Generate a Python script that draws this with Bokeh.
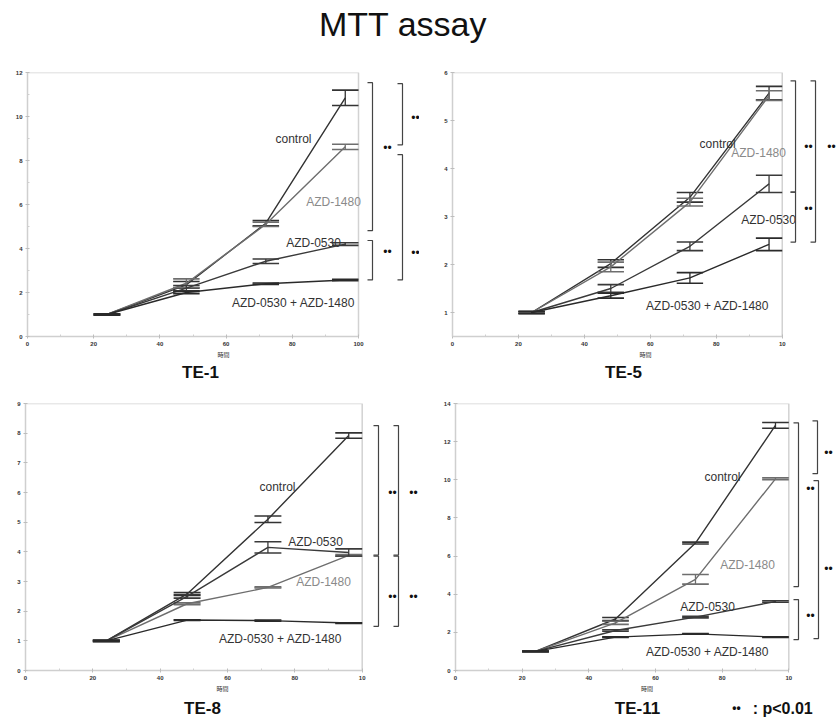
from bokeh.plotting import figure
from bokeh.models import Range1d, FixedTicker, ColumnDataSource
from bokeh.layouts import column, row
from bokeh.core.properties import value
from bokeh.embed import file_html
from bokeh.resources import INLINE

# ---------------- data ----------------
hours = [24, 48, 72, 96]
x_ticks = [0, 20, 40, 60, 80, 100]
x_minor = [10, 30, 50, 70, 90]

te1_control = [1.0, 2.35, 5.15, 10.85]
te1_control_err = [0.03, 0.15, 0.12, 0.35]
te1_azd1480 = [1.0, 2.42, 5.1, 8.62]
te1_azd1480_err = [0.03, 0.2, 0.1, 0.12]
te1_azd0530 = [1.0, 2.2, 3.42, 4.2]
te1_azd0530_err = [0.03, 0.12, 0.1, 0.06]
te1_combo = [1.0, 2.0, 2.4, 2.57]
te1_combo_err = [0.03, 0.05, 0.03, 0.03]

te5_control = [1.0, 2.02, 3.4, 5.57]
te5_control_err = [0.02, 0.08, 0.1, 0.14]
te5_azd1480 = [1.0, 1.95, 3.3, 5.52]
te5_azd1480_err = [0.02, 0.1, 0.08, 0.1]
te5_azd0530 = [1.0, 1.5, 2.38, 3.68]
te5_azd0530_err = [0.02, 0.08, 0.09, 0.18]
te5_combo = [1.0, 1.35, 1.72, 2.42]
te5_combo_err = [0.02, 0.05, 0.11, 0.13]

te8_control = [1.0, 2.58, 5.1, 7.92]
te8_control_err = [0.02, 0.05, 0.11, 0.09]
te8_azd1480 = [1.0, 2.25, 2.8, 3.88]
te8_azd1480_err = [0.02, 0.03, 0.02, 0.03]
te8_azd0530 = [1.0, 2.5, 4.15, 3.98]
te8_azd0530_err = [0.02, 0.06, 0.19, 0.12]
te8_combo = [1.0, 1.7, 1.68, 1.6]
te8_combo_err = [0.02, 0.01, 0.02, 0.01]

te11_control = [1.0, 2.7, 6.68, 12.85]
te11_control_err = [0.02, 0.08, 0.05, 0.15]
te11_azd1480 = [1.0, 2.5, 4.78, 10.05]
te11_azd1480_err = [0.02, 0.08, 0.25, 0.05]
te11_azd0530 = [1.0, 2.1, 2.8, 3.62]
te11_azd0530_err = [0.02, 0.04, 0.04, 0.04]
te11_combo = [1.0, 1.75, 1.92, 1.75]
te11_combo_err = [0.02, 0.02, 0.02, 0.02]

FONT = value("Liberation Sans")
SERIES_STYLE = {
    "control": ("#333333", "#333333"),
    "AZD-1480": ("#6e6e6e", "#8a8a8a"),
    "AZD-0530": ("#3a3a3a", "#333333"),
    "AZD-0530 + AZD-1480": ("#2a2a2a", "#333333"),
}
CAP = 4.0


def make_panel(spec):
    fx, fy, w, h = spec["fig"]
    fl, fr, ft, fb = spec["frame"]
    ymin, ymax = spec["yr"]
    x_end = 100.0 * (fx + w - fl) / (fr - fl)

    def px(X):
        return (X - fl) / (fr - fl) * 100.0

    def py(Y):
        return ymax - (Y - ft) / (fb - ft) * (ymax - ymin)

    p = figure(width=w, height=h, x_range=Range1d(0, x_end), y_range=Range1d(ymin, ymax),
               output_backend="svg", toolbar_location=None, title=None,
               min_border_left=int(round(fl - fx)), min_border_right=0,
               min_border_top=int(round(ft - fy)), min_border_bottom=int(round(fy + h - fb)),
               outline_line_color=None)
    p.grid.visible = False
    p.xaxis.bounds = (0, 100)
    p.xaxis.ticker = FixedTicker(ticks=x_ticks, minor_ticks=x_minor)
    p.yaxis.ticker = FixedTicker(ticks=spec["yticks"], minor_ticks=spec["yminor"])
    if spec.get("xlabels"):
        p.xaxis.major_label_overrides = spec["xlabels"]
    p.xaxis.axis_label = "時間"
    p.xaxis.axis_label_text_font = "Noto Sans CJK JP"
    p.xaxis.axis_label_text_font_size = "6px"
    p.xaxis.axis_label_text_font_style = "normal"
    p.xaxis.axis_label_text_color = "#333333"
    p.xaxis.axis_label_standoff = 1
    for ax in (p.xaxis, p.yaxis):
        ax.axis_line_color = "#cfcfcf"
        ax.axis_line_width = 1.5
        ax.major_tick_line_color = "#bdbdbd"
        ax.minor_tick_line_color = "#cfcfcf"
        ax.major_tick_in = 2
        ax.major_tick_out = 2
        ax.minor_tick_in = 2
        ax.minor_tick_out = 0
        ax.major_label_text_font_size = "6px"
        ax.major_label_text_font_style = "bold"
        ax.major_label_text_color = "#333333"
        ax.major_label_text_font = "Liberation Sans"
        ax.major_label_standoff = 3
    # frame top / right edges
    p.line([0, 100, 100], [ymax, ymax, ymin], line_color="#d2d2d2", line_width=1.5)

    for name, vals, errs in spec["series"]:
        lc, _ = SERIES_STYLE[name]
        p.line(hours, vals, line_color=lc, line_width=1.4)
        up = [v + e for v, e in zip(vals, errs)]
        lo = [v - e for v, e in zip(vals, errs)]
        src = ColumnDataSource(dict(x=hours, up=up, lo=lo,
                                    x0=[t - CAP for t in hours], x1=[t + CAP for t in hours]))
        p.segment(x0="x", y0="lo", x1="x", y1="up", source=src, line_color=lc, line_width=1.3)
        p.segment(x0="x0", y0="up", x1="x1", y1="up", source=src, line_color=lc, line_width=1.6)
        p.segment(x0="x0", y0="lo", x1="x1", y1="lo", source=src, line_color=lc, line_width=1.6)

    for name, (X, Y) in spec["labels"].items():
        _, tc = SERIES_STYLE[name]
        p.text(x=[px(X)], y=[py(Y)], text=[name], text_font=FONT, text_font_size="12px",
               text_color=tc, text_align="center", text_baseline="middle")

    hook = 5.0 / (fr - fl) * 100.0
    for (X, Y0, Y1) in spec["brackets"]:
        bx, y0, y1 = px(X), py(Y0), py(Y1)
        p.line([bx - hook, bx, bx, bx - hook], [y0, y0, y1, y1], line_color="#444444", line_width=1.2)
    for (X, Y) in spec["stars"]:
        p.text(x=[px(X)], y=[py(Y)], text=["••"], text_font=FONT, text_font_size="12px",
               text_color="#111111", text_align="center", text_baseline="middle")
    return p


def make_strip(x, y, w, h, items):
    s = figure(width=w, height=h, x_range=Range1d(x, x + w), y_range=Range1d(y + h, y),
               output_backend="svg", toolbar_location=None, title=None,
               x_axis_type=None, y_axis_type=None, min_border=0, outline_line_color=None)
    s.grid.visible = False
    for (txt, X, Y, size, style, align, base) in items:
        s.text(x=[X], y=[Y], text=[txt], text_font=FONT, text_font_size=size,
               text_font_style=style, text_color="#111111", text_align=align,
               text_baseline=base)
    return s


specs = [
    dict(fig=(0, 50, 419, 314), frame=(27, 358, 71.7, 339.3), yr=(0, 12),
         yticks=[0, 2, 4, 6, 8, 10, 12], yminor=[1, 3, 5, 7, 9, 11],
         series=[("control", te1_control, te1_control_err),
                 ("AZD-1480", te1_azd1480, te1_azd1480_err),
                 ("AZD-0530", te1_azd0530, te1_azd0530_err),
                 ("AZD-0530 + AZD-1480", te1_combo, te1_combo_err)],
         labels={"control": (293, 139), "AZD-1480": (333, 203), "AZD-0530": (313, 245),
                 "AZD-0530 + AZD-1480": (293, 305)},
         brackets=[(372, 82, 232), (402, 83, 145), (402, 155, 282), (372, 242, 282)],
         stars=[(387, 148), (415, 118), (415, 255), (387, 254)]),
    dict(fig=(419, 50, 419, 314), frame=(451.7, 781.7, 71.7, 336.4), yr=(0.5, 6),
         yticks=[1, 2, 3, 4, 5, 6], yminor=[], xlabels={100: "10"},
         series=[("control", te5_control, te5_control_err),
                 ("AZD-1480", te5_azd1480, te5_azd1480_err),
                 ("AZD-0530", te5_azd0530, te5_azd0530_err),
                 ("AZD-0530 + AZD-1480", te5_combo, te5_combo_err)],
         labels={"control": (717, 143), "AZD-1480": (758, 152), "AZD-0530": (768, 220),
                 "AZD-0530 + AZD-1480": (707, 306)},
         brackets=[(795, 80, 191.7), (795, 191.7, 241.7), (815, 80, 241.7)],
         stars=[(808, 146), (808, 209), (831, 146)]),
    dict(fig=(0, 385, 419, 312), frame=(25, 361.7, 402.7, 672.7), yr=(0, 9),
         yticks=[0, 1, 2, 3, 4, 5, 6, 7, 8, 9], yminor=[], xlabels={100: "10"},
         series=[("control", te8_control, te8_control_err),
                 ("AZD-1480", te8_azd1480, te8_azd1480_err),
                 ("AZD-0530", te8_azd0530, te8_azd0530_err),
                 ("AZD-0530 + AZD-1480", te8_combo, te8_combo_err)],
         labels={"control": (277, 487), "AZD-0530": (315, 543), "AZD-1480": (323, 583),
                 "AZD-0530 + AZD-1480": (280, 641)},
         brackets=[(378, 425, 556), (398, 425, 556), (378, 557, 628), (398, 557, 628)],
         stars=[(392, 493), (413, 493), (392, 598), (413, 598)]),
    dict(fig=(419, 385, 419, 312), frame=(455, 788.3, 402.7, 670), yr=(0, 14),
         yticks=[0, 2, 4, 6, 8, 10, 12, 14], yminor=[], xlabels={100: "10"},
         series=[("control", te11_control, te11_control_err),
                 ("AZD-1480", te11_azd1480, te11_azd1480_err),
                 ("AZD-0530", te11_azd0530, te11_azd0530_err),
                 ("AZD-0530 + AZD-1480", te11_combo, te11_combo_err)],
         labels={"control": (722, 476), "AZD-1480": (747, 564), "AZD-0530": (707, 606),
                 "AZD-0530 + AZD-1480": (707, 651)},
         brackets=[(798, 422, 586), (817, 420, 473), (818, 480, 638), (798, 599, 639)],
         stars=[(810, 488), (828, 452), (828, 568), (810, 615)]),
]

panels = [make_panel(s) for s in specs]

header = make_strip(0, 0, 838, 50, [("MTT assay", 402.5, 23, "34px", "normal", "center", "middle")])
strip1 = make_strip(0, 364, 838, 21, [
    ("TE-1", 200, 372, "17px", "bold", "center", "middle"),
    ("TE-5", 623, 372, "17px", "bold", "center", "middle"),
])
strip2 = make_strip(0, 697, 838, 24, [
    ("TE-8", 202, 708, "17px", "bold", "center", "middle"),
    ("TE-11", 637, 708, "17px", "bold", "center", "middle"),
    ("••", 736, 707, "12px", "bold", "center", "middle"),
    (":", 755, 708, "16px", "bold", "center", "middle"),
    ("p<0.01", 762, 708, "16px", "bold", "left", "middle"),
])

layout = column(header, row(panels[0], panels[1]), strip1, row(panels[2], panels[3]), strip2)

open("out.html", "w").write(file_html(layout, INLINE))
